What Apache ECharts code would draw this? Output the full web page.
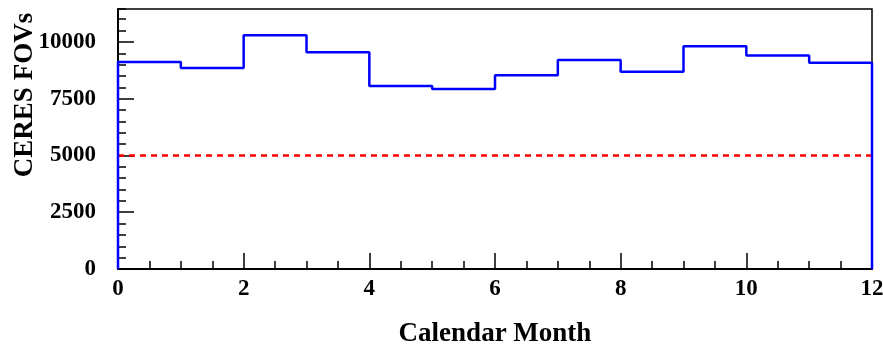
<!DOCTYPE html>
<html>
<head>
<meta charset="utf-8">
<script src="https://cdn.jsdelivr.net/npm/echarts@6/dist/echarts.min.js"></script>
<style>
    html, body { margin: 0; padding: 0; background: #fff; }
    #chart { width: 883px; height: 347px; }
</style>
</head>
<body>
<div id="chart"></div>
<script>
    // monthly bin edges and counts
    var binEdges = [0, 1, 2, 3, 4, 5, 6, 7, 8, 9, 10, 11, 12];
    var fovCounts = [9120, 8850, 10290, 9540, 8060, 7930, 8530, 9200, 8690, 9810, 9400, 9080];
    var threshold = 5000;
    var yTicks = [0, 2500, 5000, 7500, 10000];

    var FONT = 'Liberation Serif';

    // histogram outline: vertical edge at 0, flat tops, drop back to 0 at the end
    var histPoints = [[binEdges[0], 0]];
    for (var i = 0; i < fovCounts.length; i++) {
        histPoints.push([binEdges[i], fovCounts[i]]);
        histPoints.push([binEdges[i + 1], fovCounts[i]]);
    }
    histPoints.push([binEdges[binEdges.length - 1], 0]);

    var chart = echarts.init(document.getElementById('chart'));

    var option = {
        animation: false,
        grid: {
            left: 118, right: 11, top: 9, bottom: 78,
            outerBoundsMode: 'none',
            show: true, borderColor: '#000', borderWidth: 1.5
        },
        xAxis: [
            {
                type: 'value', min: 0, max: 12, interval: 2,
                position: 'bottom',
                name: 'Calendar Month', nameLocation: 'middle', nameGap: 52,
                nameTextStyle: { fontFamily: FONT, fontWeight: 'bold', fontSize: 27, color: '#000' },
                axisLine: { show: true, lineStyle: { color: '#000', width: 2 } },
                axisTick: { show: true, inside: true, length: 16, lineStyle: { color: '#000', width: 1.5 } },
                minorTick: { show: true, splitNumber: 4, length: 8, lineStyle: { color: '#000', width: 1.5 } },
                axisLabel: { fontFamily: FONT, fontWeight: 'bold', fontSize: 23, color: '#000', margin: 9 },
                splitLine: { show: false }
            }
        ],
        yAxis: [
            {
                type: 'value', min: 0, max: 11450, interval: 2500,
                position: 'left',
                axisLine: { show: true, lineStyle: { color: '#000', width: 2 } },
                axisTick: { show: true, inside: true, length: 16, lineStyle: { color: '#000', width: 1.5 } },
                axisLabel: {
                    fontFamily: FONT, fontWeight: 'bold', fontSize: 23, color: '#000', margin: 22,
                    showMaxLabel: false,
                    formatter: function (v) { return yTicks.indexOf(v) >= 0 ? String(v) : ''; }
                },
                splitLine: { show: false }
            },
            {
                // minor ticks every 500
                type: 'value', min: 0, max: 11450, interval: 500,
                position: 'left', offset: 0,
                axisLine: { show: false },
                axisTick: { show: true, inside: true, length: 8, lineStyle: { color: '#000', width: 1.5 } },
                axisLabel: { show: false },
                splitLine: { show: false }
            }
        ],
        graphic: [
            {
                type: 'text',
                x: 25, y: 95,
                rotation: Math.PI / 2,
                style: {
                    text: 'CERES FOVs',
                    font: 'bold 27px "Liberation Serif"',
                    fill: '#000',
                    align: 'center',
                    verticalAlign: 'middle'
                }
            }
        ],
        series: [
            {
                name: 'threshold',
                type: 'line',
                data: [[binEdges[0], threshold], [binEdges[binEdges.length - 1], threshold]],
                symbol: 'none',
                lineStyle: { color: '#ff0000', width: 2.5, type: [6, 5] },
                z: 3
            },
            {
                name: 'CERES FOVs',
                type: 'line',
                data: histPoints,
                symbol: 'none',
                clip: false,
                lineStyle: { color: '#0000ff', width: 2.5 },
                z: 4
            }
        ]
    };

    chart.setOption(option);
</script>
</body>
</html>
